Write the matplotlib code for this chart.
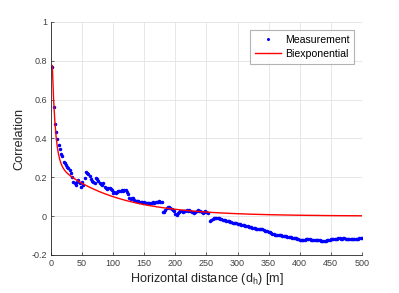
import numpy as np
from matplotlib import pyplot as plt
from matplotlib.ticker import FuncFormatter

plt.rcParams['font.family'] = ['Liberation Sans', 'DejaVu Sans']

# first measurement run, every 2 m starting at 2 m
meas1_start = 2
meas1_corr = [
    0.767, 0.560, 0.474, 0.435, 0.395, 0.366, 0.345, 0.318, 0.309, 0.280,
    0.275, 0.263, 0.254, 0.246, 0.240, 0.220, 0.200, 0.177, 0.172, 0.160,
    0.177, 0.186, 0.172, 0.148, 0.177, 0.160, 0.194, 0.228, 0.224, 0.215,
    0.208, 0.190, 0.182, 0.175, 0.168, 0.197, 0.190, 0.183, 0.170, 0.163,
    0.158, 0.168, 0.152, 0.145, 0.142, 0.145, 0.146, 0.138, 0.132, 0.120,
    0.122, 0.118, 0.125, 0.129, 0.127, 0.131, 0.134, 0.130, 0.136, 0.134,
    0.125, 0.115, 0.091, 0.088, 0.092, 0.094, 0.085, 0.079, 0.077, 0.080,
    0.074, 0.072, 0.070, 0.069, 0.071, 0.066, 0.065, 0.067, 0.065, 0.066,
    0.068, 0.070, 0.069, 0.072, 0.074, 0.071, 0.077, 0.075, 0.074, 0.022,
    0.020, 0.030, 0.043, 0.048, 0.046, 0.040, 0.035, 0.030, 0.025, 0.012,
    0.008, 0.014, 0.020, 0.027, 0.025, 0.022, 0.026, 0.027, 0.030, 0.028,
    0.031, 0.027, 0.022, 0.020, 0.017, 0.022, 0.027, 0.029, 0.027, 0.024,
    0.019, 0.017, 0.022, 0.025, 0.022, 0.018,
]

# second run, every 2 m starting at 256 m
meas2_start = 256
meas2_corr = [
    -0.024, -0.020, -0.015, -0.012, -0.010, -0.009, -0.010, -0.012, -0.013, -0.016,
    -0.019, -0.021, -0.022, -0.024, -0.026, -0.027, -0.029, -0.031, -0.034, -0.035,
    -0.036, -0.038, -0.040, -0.041, -0.043, -0.045, -0.047, -0.048, -0.050, -0.052,
    -0.053, -0.056, -0.058, -0.058, -0.060, -0.062, -0.063, -0.064, -0.064, -0.066,
    -0.067, -0.067, -0.069, -0.072, -0.075, -0.077, -0.078, -0.080, -0.084, -0.087,
    -0.090, -0.093, -0.095, -0.097, -0.098, -0.098, -0.100, -0.100, -0.101, -0.101,
    -0.103, -0.105, -0.106, -0.106, -0.108, -0.109, -0.111, -0.112, -0.113, -0.115,
    -0.118, -0.120, -0.122, -0.124, -0.125, -0.124, -0.121, -0.120, -0.120, -0.119,
    -0.120, -0.122, -0.124, -0.122, -0.121, -0.123, -0.124, -0.123, -0.125, -0.126,
    -0.127, -0.128, -0.127, -0.126, -0.124, -0.122, -0.121, -0.120, -0.119, -0.118,
    -0.120, -0.117, -0.116, -0.115, -0.114, -0.116, -0.116, -0.114, -0.115, -0.116,
    -0.117, -0.118, -0.118, -0.117, -0.118, -0.118, -0.119, -0.118, -0.117, -0.116,
    -0.115, -0.114, -0.113,
]

# biexponential fit  a*exp(-b*d) + c*exp(-e*d)
fit_a, fit_b = 0.74, 0.20
fit_c, fit_e = 0.285, 0.0105

d1 = meas1_start + 2 * np.arange(len(meas1_corr))
d2 = meas2_start + 2 * np.arange(len(meas2_corr))
d_meas = np.concatenate([d1, d2])
corr = np.concatenate([meas1_corr, meas2_corr])


def biexp(d):
    return fit_a * np.exp(-fit_b * d) + fit_c * np.exp(-fit_e * d)


fig = plt.figure(figsize=(3.99, 2.93), dpi=100)
ax = fig.add_axes([0.128, 0.130, 0.779, 0.795])

ax.plot(d_meas, corr, '.', color='#0000ff', markersize=3.0, label='Measurement')
ax.plot(d_meas, biexp(d_meas), '-', color='#ff0000', lw=1.0, label='Biexponential')

ax.set_xlim(0, 500)
ax.set_ylim(-0.2, 1)
ax.set_xticks(np.arange(0, 501, 50))
ax.set_yticks(np.arange(-0.2, 1.01, 0.2))
ax.yaxis.set_major_formatter(FuncFormatter(lambda v, p: '%g' % round(v, 2)))

ax.grid(True, color='#e3e3e3', lw=0.6)
ax.set_axisbelow(True)
for s in ['top', 'right']:
    ax.spines[s].set_visible(False)
for s in ['left', 'bottom']:
    ax.spines[s].set_color('#262626')
    ax.spines[s].set_linewidth(0.6)
ax.tick_params(direction='in', length=2.5, width=0.5, colors='#262626',
               labelsize=6.5, labelcolor='#404040', pad=3)

ax.set_xlabel('Horizontal distance (d$_\\mathregular{h}$) [m]', fontsize=9.1,
              color='#262626', labelpad=2)
ax.set_ylabel('Correlation', fontsize=9.1, color='#262626', labelpad=4)

leg = ax.legend(loc='upper right', fontsize=7.6, frameon=True, fancybox=False,
                borderpad=0.45, handlelength=2.4, labelspacing=0.4,
                borderaxespad=0.75, handletextpad=0.4, markerscale=0.8)
leg.get_frame().set_edgecolor('#a0a0a0')
leg.get_frame().set_linewidth(0.8)

fig.savefig('out.png', dpi=100)
